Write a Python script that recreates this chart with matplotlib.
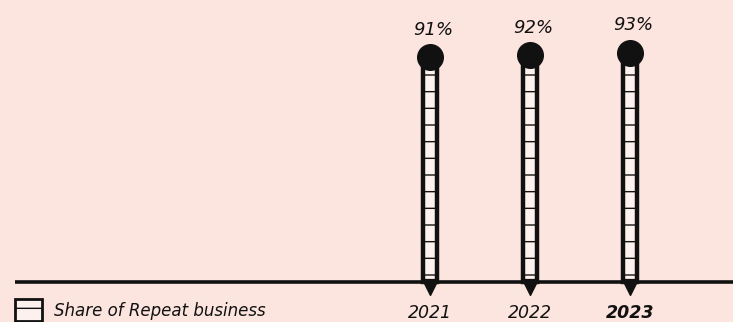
import matplotlib.pyplot as plt
from matplotlib.patches import Patch

# data
years = [2021, 2022, 2023]
share = [91, 92, 93]
labels = ['91%', '92%', '93%']
series_name = 'Share of Repeat business'

bg = '#fce5df'
ink = '#111111'

fig = plt.figure(figsize=(7.33, 3.22), dpi=100, facecolor=bg)
ax = fig.add_axes([0, 0, 1, 1])
ax.set_facecolor(bg)
ax.set_xlim(2016.7, 2024.03)
ax.set_ylim(-16.2, 114.3)
ax.axis('off')

plt.rcParams['hatch.linewidth'] = 1.0
plt.rcParams['hatch.color'] = '#222222'

# baseline
ax.plot([2016.85, 2024.03], [0, 0], color=ink, lw=2.6, solid_capstyle='butt', zorder=1)

# thermometer bars
ax.bar(years, share, width=0.14, bottom=0, color='#fdf1ee', edgecolor=ink,
       linewidth=3.2, hatch='-', zorder=2)
ax.scatter(years, share, s=340, color=ink, zorder=3)
ax.scatter(years, [-1.9] * len(years), marker='v', s=130, color=ink, zorder=3)

for x, v, t in zip(years, share, labels):
    ax.text(x + 0.03, v + 7.5, t, ha='center', va='bottom', fontsize=13,
            style='italic', color=ink)

for x in years:
    ax.text(x, -12.6, str(x), ha='center', va='center', fontsize=12.5,
            style='italic', color=ink,
            fontweight='bold' if x == years[-1] else 'normal')

# legend
handle = Patch(facecolor='#fdf1ee', edgecolor=ink, linewidth=2, hatch='-')
fig.legend([handle], [series_name], loc='lower left',
           bbox_to_anchor=(0.0, -0.045), frameon=False,
           handlelength=1.6, handleheight=1.7, handletextpad=0.75,
           prop={'size': 12, 'style': 'italic'}, labelcolor=ink)

fig.savefig('out.png', dpi=100, facecolor=bg)
